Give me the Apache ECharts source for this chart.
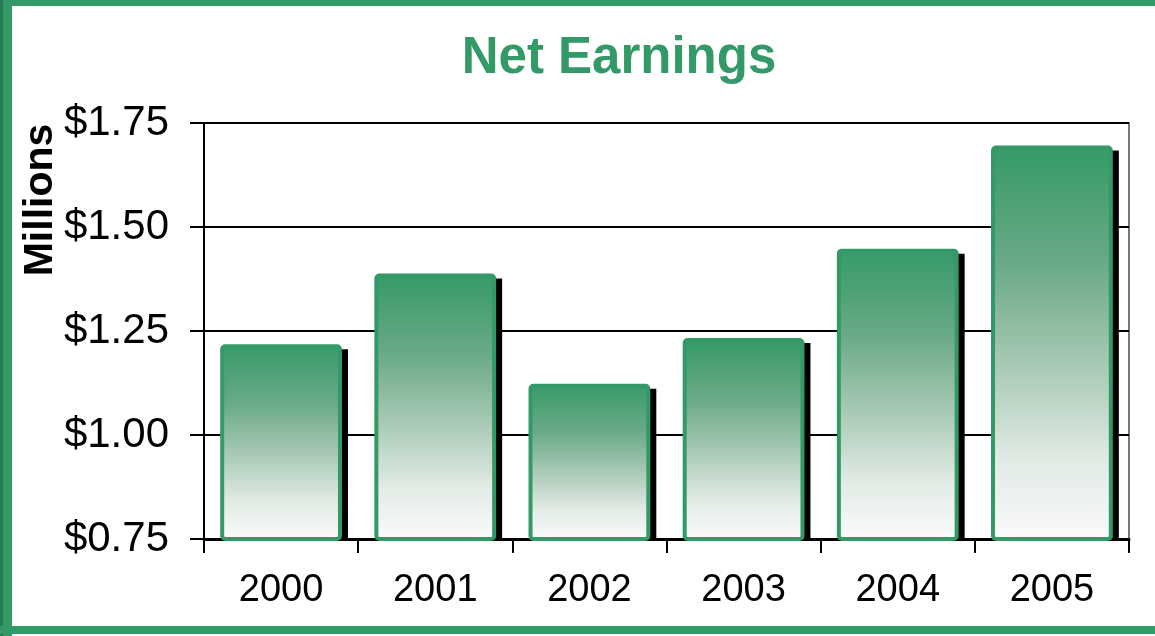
<!DOCTYPE html>
<html>
<head>
<meta charset="utf-8">
<script src="https://cdn.jsdelivr.net/npm/echarts@6/dist/echarts.min.js"></script>
<style>
  html, body { margin: 0; padding: 0; background: #fff; }
  #chart { width: 1155px; height: 636px; }
</style>
</head>
<body>
<div id="chart"></div>
<script>
const years = ["2000", "2001", "2002", "2003", "2004", "2005"];
const earnings = [1.218, 1.388, 1.123, 1.233, 1.448, 1.696];
const yTicks = [0.75, 1.0, 1.25, 1.5, 1.75];

const green = "#339966";
const barShare = 0.79;

const chart = echarts.init(document.getElementById("chart"));

// black drop shadow behind each bar, placed from the axis scales
function renderShadow(params, api) {
  const top = api.coord([api.value(0), api.value(1)]);
  const base = api.coord([api.value(0), yTicks[0]]);
  const w = api.size([1, 0])[0] * barShare;
  return {
    type: "rect",
    shape: { x: top[0] - w / 2 + 6, y: top[1] + 5, width: w, height: base[1] - top[1] - 5 },
    style: { fill: "#000" },
  };
}

chart.setOption({
  backgroundColor: "#ffffff",
  animation: false,
  title: {
    text: "Net Earnings",
    left: 614,
    textAlign: "center",
    top: 28,
    textStyle: {
      fontFamily: "Liberation Sans, Arial",
      fontSize: 51,
      fontWeight: "bold",
      color: green,
    },
  },
  graphic: [
    { type: "rect", shape: { x: 0, y: 0, width: 1155, height: 6 }, style: { fill: green } },
    { type: "rect", shape: { x: 0, y: 0, width: 12, height: 636 }, style: { fill: green } },
    { type: "rect", shape: { x: 0, y: 0, width: 3, height: 636 }, style: { fill: "#2a7a52" } },
    { type: "rect", shape: { x: 0, y: 626, width: 1155, height: 8 }, style: { fill: green } },
    {
      type: "text",
      x: 41,
      y: 200,
      rotation: Math.PI / 2,
      style: {
        text: "Millions",
        fontFamily: "Liberation Sans, Arial",
        fontSize: 41,
        fontWeight: "bold",
        fill: "#000",
        align: "center",
        verticalAlign: "middle",
      },
    },
  ],
  grid: {
    left: 204,
    right: 26,
    top: 123,
    bottom: 97,
    show: true,
    borderColor: "#777",
    borderWidth: 2,
    backgroundColor: "transparent",
  },
  xAxis: {
    type: "category",
    data: years,
    axisLine: { lineStyle: { color: "#000", width: 3 } },
    axisTick: { show: true, length: 14, lineStyle: { color: "#000", width: 2 } },
    axisLabel: {
      margin: 33,
      fontFamily: "Liberation Sans, Arial",
      fontSize: 38,
      color: "#000",
    },
  },
  yAxis: {
    type: "value",
    min: yTicks[0],
    max: yTicks[yTicks.length - 1],
    interval: 0.25,
    axisLine: { show: true, lineStyle: { color: "#000", width: 2 } },
    axisTick: { show: true, length: 14, lineStyle: { color: "#000", width: 2 } },
    axisLabel: {
      margin: 35,
      fontFamily: "Liberation Sans, Arial",
      fontSize: 42,
      color: "#000",
      formatter: (v) => "$" + v.toFixed(2),
    },
    splitLine: { show: true, lineStyle: { color: "#000", width: 2 } },
  },
  series: [
    {
      type: "custom",
      renderItem: renderShadow,
      data: earnings.map((v, i) => [i, v]),
      encode: { x: 0, y: 1 },
      z: 1,
    },
    {
      type: "bar",
      data: earnings,
      barWidth: (barShare * 100) + "%",
      z: 2,
      itemStyle: {
        color: {
          type: "linear",
          x: 0, y: 0, x2: 0, y2: 1,
          colorStops: [
            { offset: 0, color: "#359a68" },
            { offset: 0.3, color: "#6aaa86" },
            { offset: 0.55, color: "#a6c8b3" },
            { offset: 0.8, color: "#e2ebe5" },
            { offset: 1, color: "#fbfbfb" },
          ],
        },
        borderColor: green,
        borderWidth: 4,
        borderRadius: 3,
      },
    },
  ],
});
</script>
</body>
</html>
